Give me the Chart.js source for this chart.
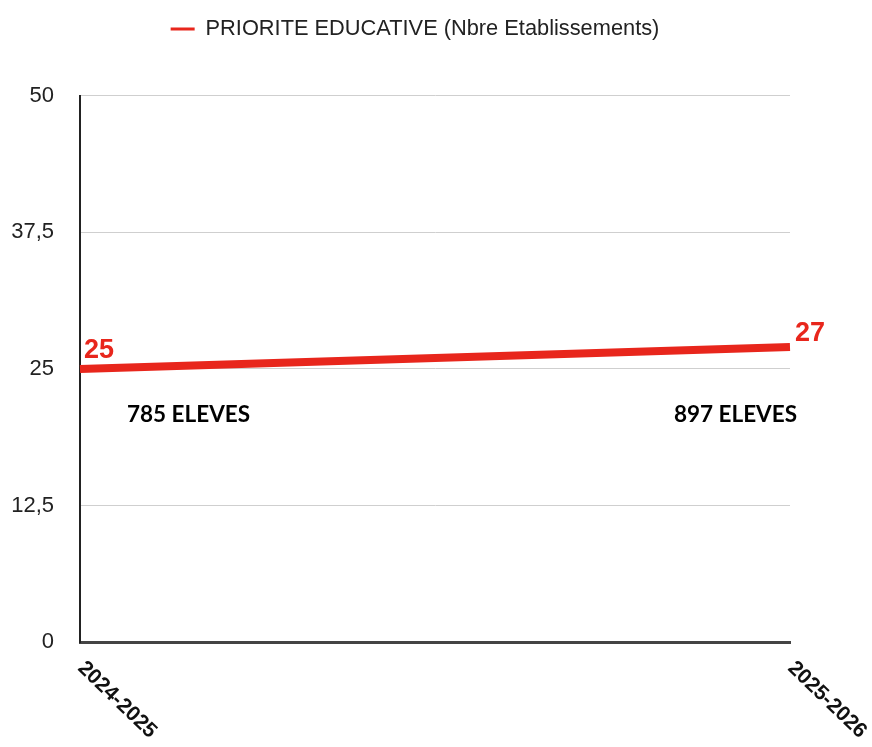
<!DOCTYPE html>
<html>
<head>
<meta charset="utf-8">
<script src="https://cdn.jsdelivr.net/npm/chart.js@4.4.1/dist/chart.umd.min.js"></script>
<style>
  html, body { margin: 0; padding: 0; background: #fff; }
  #wrap { width: 872px; height: 747px; }
</style>
</head>
<body>
<div id="wrap"><canvas id="line1" width="872" height="747"></canvas></div>
<script>
const years = ["2024-2025", "2025-2026"];
const etablissements = [25, 27];
const eleves = ["785 ELEVES", "897 ELEVES"];
const yTicks = [0, 12.5, 25, 37.5, 50];

const RED = "#e8261c";

// legend spacing below the label row, and a small shift to the right
const legendGap = {
  id: "legendGap",
  beforeInit(chart) {
    const fit = chart.legend.fit;
    chart.legend.fit = function () {
      fit.bind(chart.legend)();
      this.height += 46;
    };
  },
  afterLayout(chart) {
    chart.legend.left += 20;
    chart.legend.right += 20;
  },
};

// value labels, student counts, rotated year labels
const labels = {
  id: "labels",
  afterDatasetsDraw(chart) {
    const ctx = chart.ctx;
    const pts = chart.getDatasetMeta(0).data;
    const x = chart.scales.x;
    const y = chart.scales.y;
    ctx.save();

    ctx.fillStyle = RED;
    ctx.font = "bold 27px 'Liberation Sans', Arial, sans-serif";
    ctx.textAlign = "left";
    ctx.textBaseline = "alphabetic";
    ctx.fillText(String(etablissements[0]), pts[0].x + 4, pts[0].y - 11);
    ctx.fillText(String(etablissements[1]), pts[1].x + 5, pts[1].y - 6);

    ctx.fillStyle = "#000";
    ctx.font = "bold 22.5px Lato, 'Open Sans', sans-serif";
    ctx.textBaseline = "middle";
    const ey = y.getPixelForValue(25) + 46;
    ctx.textAlign = "left";
    ctx.fillText(eleves[0], pts[0].x + 47, ey);
    ctx.textAlign = "right";
    ctx.fillText(eleves[1], pts[1].x + 7, ey);

    ctx.fillStyle = "#111";
    ctx.font = "bold 21px 'Liberation Sans', Arial, sans-serif";
    ctx.textAlign = "left";
    ctx.textBaseline = "middle";
    years.forEach((lab, i) => {
      const tx = x.getPixelForTick(i);
      ctx.save();
      ctx.translate(tx + 1, chart.chartArea.bottom + 23);
      ctx.rotate((44 * Math.PI) / 180);
      ctx.fillText(lab, 0, 0);
      ctx.restore();
    });
    ctx.restore();
  },
};

new Chart(document.getElementById("line1"), {
  type: "line",
  data: {
    labels: years,
    datasets: [
      {
        label: "PRIORITE EDUCATIVE (Nbre Etablissements)",
        data: etablissements,
        borderColor: RED,
        backgroundColor: RED,
        borderWidth: 8,
        pointRadius: 0,
        tension: 0,
      },
    ],
  },
  options: {
    responsive: false,
    animation: false,
    devicePixelRatio: 1,
    layout: { padding: { top: 8, right: 82, left: 0, bottom: 0 } },
    plugins: {
      legend: {
        position: "top",
        labels: {
          color: "#222",
          font: { size: 21.8, family: "'Liberation Sans', Arial, sans-serif" },
          usePointStyle: true,
          pointStyle: "line",
          pointStyleWidth: 24,
          boxHeight: 20,
          generateLabels(chart) {
            const items = Chart.defaults.plugins.legend.labels.generateLabels(chart);
            items.forEach((it) => (it.lineWidth = 3));
            return items;
          },
        },
      },
      tooltip: { enabled: false },
    },
    scales: {
      x: {
        type: "category",
        offset: false,
        grid: { display: false, drawTicks: false },
        border: { color: "#444", width: 3 },
        ticks: { display: false },
        afterFit(s) { s.height = 105; },
      },
      y: {
        min: 0,
        max: 50,
        afterBuildTicks(s) { s.ticks = yTicks.map((v) => ({ value: v })); },
        grid: { color: "#cfcfcf", lineWidth: 1, drawTicks: false },
        border: { color: "#222", width: 2 },
        ticks: {
          padding: 26,
          color: "#222",
          font: { size: 22, family: "'Liberation Sans', Arial, sans-serif" },
          callback: (v) => String(v).replace(".", ","),
        },
        afterFit(s) { s.width = 80; },
      },
    },
  },
  plugins: [legendGap, labels],
});
</script>
</body>
</html>
